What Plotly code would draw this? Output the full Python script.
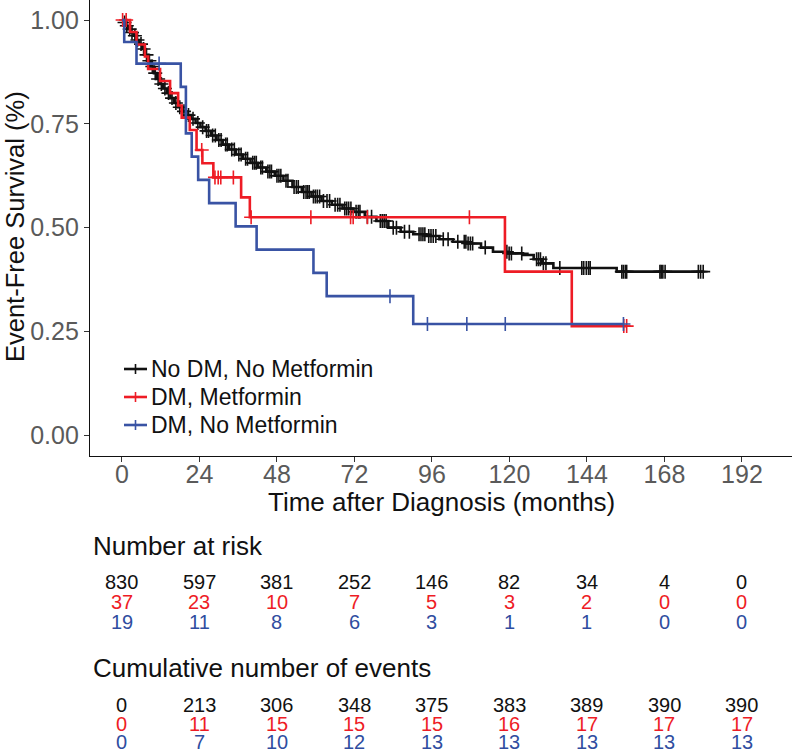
import plotly.graph_objects as go

# ---------------- data ----------------
group_names = ["No DM, No Metformin", "DM, Metformin", "DM, No Metformin"]
group_colors = ["#111111", "#EE1C25", "#3953A4"]
table_colors = ["#111111", "#EE1C25", "#2F4DA0"]

# Kaplan-Meier step knots: time (months) and survival after each step
black_t = [0, 0.5, 1.2, 2.0, 2.8, 3.6, 4.5, 5.4, 6.3, 7.2, 8.1, 9.0, 9.9, 10.8, 11.8, 12.8,
           13.9, 15.0, 16.2, 17.4, 18.7, 20.0, 21.4, 22.8, 24.3, 25.9, 27.6, 29.3, 31.2, 33.2,
           35.3, 37.5, 39.8, 42.2, 44.7, 47.3, 50.0, 52.8, 55.7, 58.7, 61.8, 65.0, 68.3, 71.7,
           75.2, 78.8, 82.5, 86.3, 90.2, 94.2, 98.3, 102.5, 106.8, 111.2, 114.9, 119.5, 124.2,
           127.5, 130.0, 133.6, 153.2]
black_s = [1.000, 0.994, 0.986, 0.978, 0.970, 0.962, 0.952, 0.942, 0.930, 0.916, 0.902, 0.888,
           0.872, 0.858, 0.846, 0.835, 0.824, 0.812, 0.800, 0.790, 0.780, 0.771, 0.762, 0.752,
           0.742, 0.733, 0.722, 0.711, 0.700, 0.688, 0.676, 0.666, 0.656, 0.645, 0.635, 0.625,
           0.613, 0.598, 0.586, 0.575, 0.564, 0.555, 0.546, 0.538, 0.526, 0.516, 0.500, 0.490,
           0.484, 0.480, 0.472, 0.466, 0.462, 0.452, 0.442, 0.438, 0.434, 0.424, 0.414, 0.403,
           0.394]
black_cens = [0.8, 1.5, 2.4, 3.1, 4.0, 4.8, 5.9, 6.7, 7.6, 8.5, 9.4, 10.3, 11.2, 12.2, 13.3,
              14.4, 15.5, 16.7, 17.9, 19.2, 20.6, 22.0, 23.5, 25.0, 26.2, 26.8, 28.1, 28.9,
              30.0, 30.7, 32.1, 32.6, 34.0, 34.8, 36.2, 36.9, 38.3, 38.9, 40.5, 41.1, 41.6,
              43.0, 43.5, 45.2, 45.8, 46.3, 48.0, 48.6, 49.2, 50.8, 51.4, 53.3, 54.0, 54.6,
              56.3, 57.0, 57.5, 58.0, 59.3, 59.9, 60.5, 61.2, 62.4, 63.5, 64.3, 66.0, 66.8,
              67.5, 69.0, 69.6, 70.2, 70.9, 72.5, 73.2, 73.7, 76.0, 77.3, 80.0, 80.6, 81.2,
              81.8, 84.0, 85.0, 87.5, 89.0, 92.0, 92.6, 93.2, 93.8, 95.0, 95.7, 96.4, 97.2,
              99.5, 101.0, 104.0, 106.0, 106.5, 107.2, 107.9, 108.6, 112.5, 118.6, 119.2,
              119.9, 120.6, 123.8, 128.4, 129.0, 129.6, 130.5, 131.3, 135.6, 142.4, 143.0,
              143.8, 144.5, 145.0, 154.8, 155.3, 155.9, 156.3, 166.6, 167.0, 167.5, 168.2,
              178.5, 179.2, 180.0]

red_t = [0, 2.5, 4.5, 7.1, 8.1, 11.8, 14.9, 17.4, 18.5, 21.0, 23.1, 24.9, 28.3, 36.9, 39.6,
         118.6, 139.3]
red_s = [1.000, 0.971, 0.941, 0.912, 0.882, 0.853, 0.824, 0.794, 0.765, 0.735, 0.687, 0.655,
         0.621, 0.573, 0.525, 0.394, 0.263]
red_cens = [0.2, 1.3, 24.7, 28.8, 29.8, 30.6, 34.5, 40.0, 58.5, 70.8, 71.6, 76.0, 107.6,
            155.4, 156.3]

blue_t = [0, 0.7, 4.5, 18.2, 19.8, 21.6, 23.6, 27.0, 35.2, 41.7, 59.3, 63.4, 90.2]
blue_s = [1.000, 0.947, 0.895, 0.839, 0.727, 0.671, 0.615, 0.559, 0.503, 0.447, 0.391,
          0.335, 0.268]
blue_cens = [11.5, 83.0, 94.6, 106.8, 118.7, 155.3]

# risk table
table_times = [0, 24, 48, 72, 96, 120, 144, 168, 192]
risk_black = [830, 597, 381, 252, 146, 82, 34, 4, 0]
risk_red = [37, 23, 10, 7, 5, 3, 2, 0, 0]
risk_blue = [19, 11, 8, 6, 3, 1, 1, 0, 0]
events_black = [0, 213, 306, 348, 375, 383, 389, 390, 390]
events_red = [0, 11, 15, 15, 15, 16, 17, 17, 17]
events_blue = [0, 7, 10, 12, 13, 13, 13, 13, 13]

x_ticks = [0, 24, 48, 72, 96, 120, 144, 168, 192]
y_ticks = [0.0, 0.25, 0.5, 0.75, 1.0]
y_tick_text = ["0.00", "0.25", "0.50", "0.75", "1.00"]

# ---------------- figure ----------------
FONT = "Liberation Sans, Arial, Helvetica, sans-serif"
fig = go.Figure()


def step_value(ts, ss, t):
    val = ss[0]
    for ti, si in zip(ts, ss):
        if ti <= t:
            val = si
    return val


groups = [(black_t, black_s, black_cens), (red_t, red_s, red_cens), (blue_t, blue_s, blue_cens)]
for (ts, ss, cens), name, col in zip(groups, group_names, group_colors):
    end_t = max(cens[-1], ts[-1])
    xs = list(ts) + [end_t]
    ys = list(ss) + [ss[-1]]
    fig.add_trace(go.Scatter(x=xs, y=ys, mode="lines", line=dict(color=col, width=2.6, shape="hv"),
                             showlegend=False, hoverinfo="skip", name=name))
    fig.add_trace(go.Scatter(x=cens, y=[step_value(ts, ss, c) for c in cens], mode="markers",
                             marker=dict(symbol="cross-thin", size=10,
                                         line=dict(color=col, width=1.6)),
                             showlegend=False, hoverinfo="skip", name=name))

# page pixel -> paper coordinates
PLOT_TOP = 0.0
PLOT_BOTTOM = 456.0
PLOT_LEFT = 90.0
PLOT_W = 702.0


def py(p):
    return (PLOT_BOTTOM - p) / (PLOT_BOTTOM - PLOT_TOP)


def px(p):
    return (p - PLOT_LEFT) / PLOT_W


ann = []
shapes = []
# legend (drawn inside the panel, bottom-left)
legend_rows = [369, 397, 425]
for name, col, yrow in zip(group_names, group_colors, legend_rows):
    ann.append(dict(text=name, xref="paper", yref="paper", x=px(149), y=py(yrow),
                    xanchor="left", yanchor="middle", showarrow=False,
                    font=dict(size=23, color="#111111", family=FONT)))
    shapes.append(dict(type="line", xref="paper", yref="paper", x0=px(124), x1=px(147),
                       y0=py(yrow), y1=py(yrow), line=dict(color=col, width=2.6)))
    shapes.append(dict(type="line", xref="paper", yref="paper", x0=px(135.5), x1=px(135.5),
                       y0=py(yrow - 5), y1=py(yrow + 5), line=dict(color=col, width=1.6)))

ann.append(dict(text="Time after Diagnosis (months)", xref="paper", yref="paper",
                x=px(441), y=py(502), xanchor="center", yanchor="middle", showarrow=False,
                font=dict(size=26, color="#111111", family=FONT)))
ann.append(dict(text="Event-Free Survival (%)", xref="paper", yref="paper",
                x=px(15), y=py(227), xanchor="center", yanchor="middle", textangle=-90,
                showarrow=False, font=dict(size=25.5, color="#111111", family=FONT)))
ann.append(dict(text="Number at risk", xref="paper", yref="paper", x=px(91), y=py(546),
                xanchor="left", yanchor="middle", showarrow=False,
                font=dict(size=26, color="#111111", family=FONT)))
ann.append(dict(text="Cumulative number of events", xref="paper", yref="paper", x=px(91),
                y=py(668), xanchor="left", yanchor="middle", showarrow=False,
                font=dict(size=26, color="#111111", family=FONT)))

rows = [(risk_black, 582, table_colors[0]), (risk_red, 602, table_colors[1]),
        (risk_blue, 622, table_colors[2]),
        (events_black, 705, table_colors[0]), (events_red, 724, table_colors[1]),
        (events_blue, 741.5, table_colors[2])]
for vals, ypix, col in rows:
    for t, v in zip(table_times, vals):
        ann.append(dict(text=str(v), xref="x", yref="paper", x=t, y=py(ypix),
                        xanchor="center", yanchor="middle", showarrow=False,
                        font=dict(size=20, color=col, family=FONT)))

# y: 1.0 at page 20, 0.0 at page 435.3, panel page 0..456
unit = (435.3 - 20.0)
y_lo = -(456.0 - 435.3) / unit
y_hi = 1.0 + (20.0 - 0.0) / unit

fig.update_layout(
    width=800, height=752,
    margin=dict(l=90, r=8, t=0, b=296),
    paper_bgcolor="white", plot_bgcolor="white",
    font=dict(family=FONT, color="#111111"),
    showlegend=False,
    annotations=ann,
    shapes=shapes,
)
fig.update_xaxes(range=[-9.9, 207.5], tickvals=x_ticks, ticktext=[str(v) for v in x_ticks],
                 showgrid=False, zeroline=False, showline=True, linecolor="#111111", linewidth=1.2,
                 ticks="outside", ticklen=5, tickcolor="#333333", tickwidth=1.2,
                 ticklabelstandoff=-9, ticklabeloverflow="allow",
                 tickfont=dict(size=25, color="#5a5a5a", family=FONT))
fig.update_yaxes(range=[y_lo, y_hi], tickvals=y_ticks, ticktext=y_tick_text,
                 showgrid=False, zeroline=False, showline=True, linecolor="#111111", linewidth=1.2,
                 ticks="outside", ticklen=5, tickcolor="#333333", tickwidth=1.2,
                 ticklabeloverflow="allow",
                 tickfont=dict(size=25, color="#5a5a5a", family=FONT))

fig.write_html("out.html", config={"displayModeBar": False},
               post_script="document.body.style.margin='0px';")
